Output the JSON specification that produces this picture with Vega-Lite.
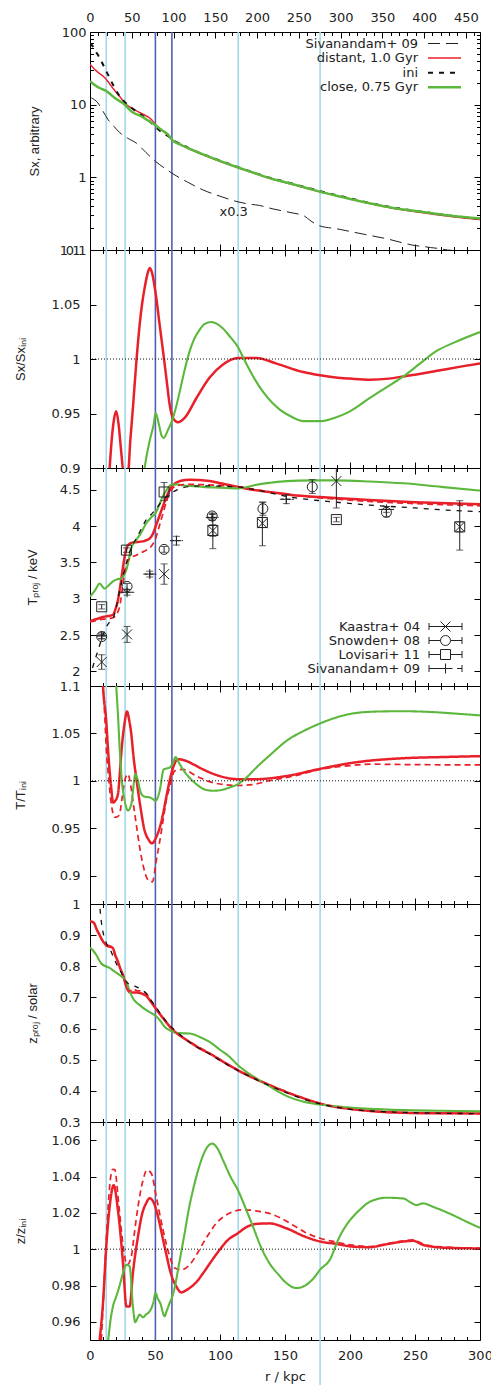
{
"$schema": "https://vega.github.io/schema/vega-lite/v6.json",
"background": "white",
"padding": {"left": 13, "top": 8, "right": 5, "bottom": 0},
"spacing": 0,
"bounds": "flush",
"datasets": {
"vl": [{"r":12.5,"c":"light"},{"r":27,"c":"light"},{"r":50.3,"c":"dark"},{"r":63,"c":"dark"},{"r":114,"c":"light"},{"r":177,"c":"light"}],
"sx": [
{"s":"Sivanandam+ 09","r":1,"v":12.4},{"s":"Sivanandam+ 09","r":6,"v":10.6},{"s":"Sivanandam+ 09","r":10,"v":8.1},{"s":"Sivanandam+ 09","r":14,"v":6.2},{"s":"Sivanandam+ 09","r":18.5,"v":5.0},{"s":"Sivanandam+ 09","r":23,"v":4.1},{"s":"Sivanandam+ 09","r":29,"v":3.45},{"s":"Sivanandam+ 09","r":35.6,"v":2.96},{"s":"Sivanandam+ 09","r":43,"v":2.2},{"s":"Sivanandam+ 09","r":50.5,"v":1.65},{"s":"Sivanandam+ 09","r":57,"v":1.35},{"s":"Sivanandam+ 09","r":63,"v":1.14},{"s":"Sivanandam+ 09","r":75,"v":0.86},{"s":"Sivanandam+ 09","r":87,"v":0.67},{"s":"Sivanandam+ 09","r":100,"v":0.55},{"s":"Sivanandam+ 09","r":113.8,"v":0.46},{"s":"Sivanandam+ 09","r":122,"v":0.43},{"s":"Sivanandam+ 09","r":130.5,"v":0.41},{"s":"Sivanandam+ 09","r":140,"v":0.37},{"s":"Sivanandam+ 09","r":150,"v":0.34},{"s":"Sivanandam+ 09","r":157,"v":0.32},{"s":"Sivanandam+ 09","r":164,"v":0.3},{"s":"Sivanandam+ 09","r":170,"v":0.25},{"s":"Sivanandam+ 09","r":177,"v":0.214},{"s":"Sivanandam+ 09","r":189,"v":0.197},{"s":"Sivanandam+ 09","r":200,"v":0.18},{"s":"Sivanandam+ 09","r":215,"v":0.159},{"s":"Sivanandam+ 09","r":228,"v":0.143},{"s":"Sivanandam+ 09","r":241,"v":0.125},{"s":"Sivanandam+ 09","r":250,"v":0.115},{"s":"Sivanandam+ 09","r":256,"v":0.112},{"s":"Sivanandam+ 09","r":262,"v":0.108},{"s":"Sivanandam+ 09","r":268,"v":0.105},{"s":"Sivanandam+ 09","r":275,"v":0.1},{"s":"Sivanandam+ 09","r":285,"v":0.097},{"s":"Sivanandam+ 09","r":295,"v":0.094},
{"s":"distant, 1.0 Gyr","r":0,"v":36},{"s":"distant, 1.0 Gyr","r":5,"v":29},{"s":"distant, 1.0 Gyr","r":11.3,"v":23.5},{"s":"distant, 1.0 Gyr","r":18,"v":16.5},{"s":"distant, 1.0 Gyr","r":24,"v":12.2},{"s":"distant, 1.0 Gyr","r":28,"v":10},{"s":"distant, 1.0 Gyr","r":32,"v":9.0},{"s":"distant, 1.0 Gyr","r":37,"v":8.0},{"s":"distant, 1.0 Gyr","r":42,"v":7.2},{"s":"distant, 1.0 Gyr","r":47,"v":6.3},{"s":"distant, 1.0 Gyr","r":52,"v":4.9},{"s":"distant, 1.0 Gyr","r":57,"v":4.2},{"s":"distant, 1.0 Gyr","r":60,"v":3.8},{"s":"distant, 1.0 Gyr","r":63,"v":3.3},{"s":"distant, 1.0 Gyr","r":70,"v":2.8},{"s":"distant, 1.0 Gyr","r":80,"v":2.3},{"s":"distant, 1.0 Gyr","r":90,"v":1.95},{"s":"distant, 1.0 Gyr","r":100,"v":1.66},{"s":"distant, 1.0 Gyr","r":113.8,"v":1.36},{"s":"distant, 1.0 Gyr","r":125,"v":1.16},{"s":"distant, 1.0 Gyr","r":138,"v":0.97},{"s":"distant, 1.0 Gyr","r":150,"v":0.85},{"s":"distant, 1.0 Gyr","r":160,"v":0.76},{"s":"distant, 1.0 Gyr","r":177,"v":0.634},{"s":"distant, 1.0 Gyr","r":195,"v":0.53},{"s":"distant, 1.0 Gyr","r":215,"v":0.436},{"s":"distant, 1.0 Gyr","r":235,"v":0.37},{"s":"distant, 1.0 Gyr","r":253.6,"v":0.33},{"s":"distant, 1.0 Gyr","r":275,"v":0.293},{"s":"distant, 1.0 Gyr","r":300,"v":0.262},
{"s":"ini","r":0,"v":70},{"s":"ini","r":2.3,"v":63},{"s":"ini","r":5,"v":52},{"s":"ini","r":7.4,"v":44},{"s":"ini","r":11.3,"v":32},{"s":"ini","r":15,"v":23.5},{"s":"ini","r":19,"v":17},{"s":"ini","r":22.8,"v":13.1},{"s":"ini","r":26,"v":11.2},{"s":"ini","r":30.5,"v":9.5},{"s":"ini","r":37,"v":7.7},{"s":"ini","r":44.6,"v":6.2},{"s":"ini","r":51,"v":4.8},{"s":"ini","r":56,"v":4.1},{"s":"ini","r":60,"v":3.7},{"s":"ini","r":63,"v":3.35},{"s":"ini","r":70,"v":2.85},{"s":"ini","r":80,"v":2.35},{"s":"ini","r":90,"v":1.98},{"s":"ini","r":100,"v":1.7},{"s":"ini","r":113.8,"v":1.38},{"s":"ini","r":125,"v":1.18},{"s":"ini","r":138,"v":0.99},{"s":"ini","r":150,"v":0.87},{"s":"ini","r":160,"v":0.78},{"s":"ini","r":177,"v":0.645},{"s":"ini","r":195,"v":0.54},{"s":"ini","r":215,"v":0.445},{"s":"ini","r":235,"v":0.38},{"s":"ini","r":253.6,"v":0.34},{"s":"ini","r":275,"v":0.3},{"s":"ini","r":300,"v":0.268},
{"s":"close, 0.75 Gyr","r":0,"v":21.1},{"s":"close, 0.75 Gyr","r":3,"v":19},{"s":"close, 0.75 Gyr","r":7.4,"v":17},{"s":"close, 0.75 Gyr","r":12.5,"v":15.4},{"s":"close, 0.75 Gyr","r":19,"v":12.4},{"s":"close, 0.75 Gyr","r":26.7,"v":10.0},{"s":"close, 0.75 Gyr","r":31.8,"v":8.1},{"s":"close, 0.75 Gyr","r":39.5,"v":6.9},{"s":"close, 0.75 Gyr","r":45,"v":6.0},{"s":"close, 0.75 Gyr","r":49.8,"v":5.3},{"s":"close, 0.75 Gyr","r":55,"v":4.5},{"s":"close, 0.75 Gyr","r":60,"v":3.87},{"s":"close, 0.75 Gyr","r":63,"v":3.3},{"s":"close, 0.75 Gyr","r":70,"v":2.8},{"s":"close, 0.75 Gyr","r":80,"v":2.33},{"s":"close, 0.75 Gyr","r":90,"v":1.97},{"s":"close, 0.75 Gyr","r":100,"v":1.68},{"s":"close, 0.75 Gyr","r":113.8,"v":1.37},{"s":"close, 0.75 Gyr","r":125,"v":1.17},{"s":"close, 0.75 Gyr","r":138,"v":0.98},{"s":"close, 0.75 Gyr","r":150,"v":0.86},{"s":"close, 0.75 Gyr","r":160,"v":0.77},{"s":"close, 0.75 Gyr","r":177,"v":0.635},{"s":"close, 0.75 Gyr","r":195,"v":0.53},{"s":"close, 0.75 Gyr","r":215,"v":0.44},{"s":"close, 0.75 Gyr","r":235,"v":0.375},{"s":"close, 0.75 Gyr","r":253.6,"v":0.338},{"s":"close, 0.75 Gyr","r":275,"v":0.3},{"s":"close, 0.75 Gyr","r":300,"v":0.272}
],
"sxr": [
{"s":"distant, 1.0 Gyr","r":14,"v":0.88},{"s":"distant, 1.0 Gyr","r":15.1,"v":0.9},{"s":"distant, 1.0 Gyr","r":17,"v":0.93},{"s":"distant, 1.0 Gyr","r":18.5,"v":0.945},{"s":"distant, 1.0 Gyr","r":20.2,"v":0.952},{"s":"distant, 1.0 Gyr","r":22,"v":0.94},{"s":"distant, 1.0 Gyr","r":24,"v":0.915},{"s":"distant, 1.0 Gyr","r":25.9,"v":0.895},{"s":"distant, 1.0 Gyr","r":29.2,"v":0.895},{"s":"distant, 1.0 Gyr","r":31,"v":0.925},{"s":"distant, 1.0 Gyr","r":33,"v":0.955},{"s":"distant, 1.0 Gyr","r":35.5,"v":0.995},{"s":"distant, 1.0 Gyr","r":38.2,"v":1.0315},{"s":"distant, 1.0 Gyr","r":40,"v":1.05},{"s":"distant, 1.0 Gyr","r":42,"v":1.065},{"s":"distant, 1.0 Gyr","r":44,"v":1.077},{"s":"distant, 1.0 Gyr","r":45.9,"v":1.0834},{"s":"distant, 1.0 Gyr","r":47.5,"v":1.08},{"s":"distant, 1.0 Gyr","r":51,"v":1.056},{"s":"distant, 1.0 Gyr","r":53.5,"v":1.032},{"s":"distant, 1.0 Gyr","r":56.2,"v":1.007},{"s":"distant, 1.0 Gyr","r":59,"v":0.98},{"s":"distant, 1.0 Gyr","r":61.3,"v":0.958},{"s":"distant, 1.0 Gyr","r":63.8,"v":0.946},{"s":"distant, 1.0 Gyr","r":67.7,"v":0.942},{"s":"distant, 1.0 Gyr","r":72.8,"v":0.946},{"s":"distant, 1.0 Gyr","r":81.8,"v":0.964},{"s":"distant, 1.0 Gyr","r":92,"v":0.983},{"s":"distant, 1.0 Gyr","r":102.3,"v":0.995},{"s":"distant, 1.0 Gyr","r":113.8,"v":1.001},{"s":"distant, 1.0 Gyr","r":128,"v":1.001},{"s":"distant, 1.0 Gyr","r":143,"v":0.996},{"s":"distant, 1.0 Gyr","r":164,"v":0.988},{"s":"distant, 1.0 Gyr","r":177,"v":0.985},{"s":"distant, 1.0 Gyr","r":189,"v":0.983},{"s":"distant, 1.0 Gyr","r":200,"v":0.982},{"s":"distant, 1.0 Gyr","r":215,"v":0.981},{"s":"distant, 1.0 Gyr","r":230,"v":0.982},{"s":"distant, 1.0 Gyr","r":241,"v":0.984},{"s":"distant, 1.0 Gyr","r":266,"v":0.989},{"s":"distant, 1.0 Gyr","r":285,"v":0.993},{"s":"distant, 1.0 Gyr","r":300,"v":0.996},
{"s":"close, 0.75 Gyr","r":40,"v":0.88},{"s":"close, 0.75 Gyr","r":42,"v":0.9},{"s":"close, 0.75 Gyr","r":45.9,"v":0.925},{"s":"close, 0.75 Gyr","r":49,"v":0.94},{"s":"close, 0.75 Gyr","r":50.5,"v":0.9505},{"s":"close, 0.75 Gyr","r":53,"v":0.94},{"s":"close, 0.75 Gyr","r":55,"v":0.93},{"s":"close, 0.75 Gyr","r":56.7,"v":0.9275},{"s":"close, 0.75 Gyr","r":60,"v":0.935},{"s":"close, 0.75 Gyr","r":63,"v":0.943},{"s":"close, 0.75 Gyr","r":66,"v":0.955},{"s":"close, 0.75 Gyr","r":69,"v":0.97},{"s":"close, 0.75 Gyr","r":72.8,"v":0.99},{"s":"close, 0.75 Gyr","r":76.6,"v":1.007},{"s":"close, 0.75 Gyr","r":80,"v":1.018},{"s":"close, 0.75 Gyr","r":84.4,"v":1.027},{"s":"close, 0.75 Gyr","r":88,"v":1.032},{"s":"close, 0.75 Gyr","r":93.3,"v":1.034},{"s":"close, 0.75 Gyr","r":98,"v":1.032},{"s":"close, 0.75 Gyr","r":102.3,"v":1.028},{"s":"close, 0.75 Gyr","r":108,"v":1.02},{"s":"close, 0.75 Gyr","r":113.8,"v":1.011},{"s":"close, 0.75 Gyr","r":118,"v":1.001},{"s":"close, 0.75 Gyr","r":122.8,"v":0.99},{"s":"close, 0.75 Gyr","r":128,"v":0.979},{"s":"close, 0.75 Gyr","r":133,"v":0.97},{"s":"close, 0.75 Gyr","r":140,"v":0.96},{"s":"close, 0.75 Gyr","r":146,"v":0.9536},{"s":"close, 0.75 Gyr","r":155,"v":0.947},{"s":"close, 0.75 Gyr","r":164,"v":0.943},{"s":"close, 0.75 Gyr","r":177,"v":0.943},{"s":"close, 0.75 Gyr","r":189.5,"v":0.9466},{"s":"close, 0.75 Gyr","r":200,"v":0.952},{"s":"close, 0.75 Gyr","r":215,"v":0.964},{"s":"close, 0.75 Gyr","r":228,"v":0.974},{"s":"close, 0.75 Gyr","r":241,"v":0.984},{"s":"close, 0.75 Gyr","r":253,"v":0.995},{"s":"close, 0.75 Gyr","r":266,"v":1.007},{"s":"close, 0.75 Gyr","r":280,"v":1.015},{"s":"close, 0.75 Gyr","r":300,"v":1.0247}
],
"tp": [
{"s":"distant, 1.0 Gyr","r":0,"v":2.69},{"s":"distant, 1.0 Gyr","r":10,"v":2.75},{"s":"distant, 1.0 Gyr","r":17.7,"v":2.78},{"s":"distant, 1.0 Gyr","r":19.5,"v":2.85},{"s":"distant, 1.0 Gyr","r":21.5,"v":2.98},{"s":"distant, 1.0 Gyr","r":23.5,"v":3.2},{"s":"distant, 1.0 Gyr","r":25.4,"v":3.44},{"s":"distant, 1.0 Gyr","r":27.5,"v":3.65},{"s":"distant, 1.0 Gyr","r":29.2,"v":3.74},{"s":"distant, 1.0 Gyr","r":33,"v":3.775},{"s":"distant, 1.0 Gyr","r":40.8,"v":3.79},{"s":"distant, 1.0 Gyr","r":44,"v":3.81},{"s":"distant, 1.0 Gyr","r":46,"v":3.83},{"s":"distant, 1.0 Gyr","r":48.5,"v":3.9},{"s":"distant, 1.0 Gyr","r":50.5,"v":3.996},{"s":"distant, 1.0 Gyr","r":53,"v":4.12},{"s":"distant, 1.0 Gyr","r":56,"v":4.27},{"s":"distant, 1.0 Gyr","r":58.5,"v":4.39},{"s":"distant, 1.0 Gyr","r":61.3,"v":4.5},{"s":"distant, 1.0 Gyr","r":63.5,"v":4.56},{"s":"distant, 1.0 Gyr","r":66.4,"v":4.6},{"s":"distant, 1.0 Gyr","r":70,"v":4.625},{"s":"distant, 1.0 Gyr","r":76.6,"v":4.64},{"s":"distant, 1.0 Gyr","r":84,"v":4.635},{"s":"distant, 1.0 Gyr","r":92,"v":4.62},{"s":"distant, 1.0 Gyr","r":103,"v":4.58},{"s":"distant, 1.0 Gyr","r":113.8,"v":4.54},{"s":"distant, 1.0 Gyr","r":125,"v":4.5},{"s":"distant, 1.0 Gyr","r":138,"v":4.47},{"s":"distant, 1.0 Gyr","r":155,"v":4.43},{"s":"distant, 1.0 Gyr","r":177,"v":4.4},{"s":"distant, 1.0 Gyr","r":195,"v":4.38},{"s":"distant, 1.0 Gyr","r":215,"v":4.36},{"s":"distant, 1.0 Gyr","r":250,"v":4.33},{"s":"distant, 1.0 Gyr","r":275,"v":4.315},{"s":"distant, 1.0 Gyr","r":300,"v":4.3},
{"s":"distant, dashed","r":0,"v":2.68},{"s":"distant, dashed","r":10,"v":2.72},{"s":"distant, dashed","r":17.7,"v":2.74},{"s":"distant, dashed","r":20,"v":2.78},{"s":"distant, dashed","r":22.8,"v":2.89},{"s":"distant, dashed","r":25,"v":3.15},{"s":"distant, dashed","r":28,"v":3.49},{"s":"distant, dashed","r":31,"v":3.56},{"s":"distant, dashed","r":35.6,"v":3.6},{"s":"distant, dashed","r":40,"v":3.64},{"s":"distant, dashed","r":43.3,"v":3.67},{"s":"distant, dashed","r":47,"v":3.72},{"s":"distant, dashed","r":50.5,"v":3.83},{"s":"distant, dashed","r":53,"v":3.98},{"s":"distant, dashed","r":56.2,"v":4.18},{"s":"distant, dashed","r":59,"v":4.35},{"s":"distant, dashed","r":61.3,"v":4.46},{"s":"distant, dashed","r":64,"v":4.53},{"s":"distant, dashed","r":67.7,"v":4.56},{"s":"distant, dashed","r":75,"v":4.575},{"s":"distant, dashed","r":87,"v":4.57},{"s":"distant, dashed","r":100,"v":4.56},{"s":"distant, dashed","r":113.8,"v":4.54},{"s":"distant, dashed","r":138,"v":4.47},{"s":"distant, dashed","r":160,"v":4.42},{"s":"distant, dashed","r":177,"v":4.39},{"s":"distant, dashed","r":215,"v":4.34},{"s":"distant, dashed","r":250,"v":4.31},{"s":"distant, dashed","r":300,"v":4.28},
{"s":"ini","r":2,"v":2.05},{"s":"ini","r":3.6,"v":2.15},{"s":"ini","r":5.5,"v":2.25},{"s":"ini","r":7.4,"v":2.36},{"s":"ini","r":10,"v":2.5},{"s":"ini","r":12.5,"v":2.61},{"s":"ini","r":15,"v":2.68},{"s":"ini","r":17.7,"v":2.73},{"s":"ini","r":20,"v":2.87},{"s":"ini","r":22.8,"v":3.12},{"s":"ini","r":25.5,"v":3.32},{"s":"ini","r":28,"v":3.49},{"s":"ini","r":31,"v":3.67},{"s":"ini","r":35.6,"v":3.83},{"s":"ini","r":40,"v":3.98},{"s":"ini","r":43.3,"v":4.09},{"s":"ini","r":47,"v":4.16},{"s":"ini","r":50.5,"v":4.23},{"s":"ini","r":53,"v":4.29},{"s":"ini","r":56,"v":4.36},{"s":"ini","r":60,"v":4.42},{"s":"ini","r":63,"v":4.46},{"s":"ini","r":67,"v":4.5},{"s":"ini","r":71.5,"v":4.53},{"s":"ini","r":80,"v":4.55},{"s":"ini","r":87,"v":4.555},{"s":"ini","r":100,"v":4.55},{"s":"ini","r":113.8,"v":4.54},{"s":"ini","r":130,"v":4.49},{"s":"ini","r":151,"v":4.41},{"s":"ini","r":177,"v":4.35},{"s":"ini","r":195,"v":4.32},{"s":"ini","r":215,"v":4.29},{"s":"ini","r":250,"v":4.25},{"s":"ini","r":275,"v":4.22},{"s":"ini","r":300,"v":4.2},
{"s":"close, 0.75 Gyr","r":0,"v":3.03},{"s":"close, 0.75 Gyr","r":4,"v":3.12},{"s":"close, 0.75 Gyr","r":7.4,"v":3.21},{"s":"close, 0.75 Gyr","r":9.5,"v":3.17},{"s":"close, 0.75 Gyr","r":11.3,"v":3.14},{"s":"close, 0.75 Gyr","r":14,"v":3.18},{"s":"close, 0.75 Gyr","r":17.7,"v":3.24},{"s":"close, 0.75 Gyr","r":21,"v":3.27},{"s":"close, 0.75 Gyr","r":24,"v":3.28},{"s":"close, 0.75 Gyr","r":26,"v":3.32},{"s":"close, 0.75 Gyr","r":28,"v":3.4},{"s":"close, 0.75 Gyr","r":30,"v":3.55},{"s":"close, 0.75 Gyr","r":31.8,"v":3.7},{"s":"close, 0.75 Gyr","r":35.6,"v":3.81},{"s":"close, 0.75 Gyr","r":39,"v":3.9},{"s":"close, 0.75 Gyr","r":43.3,"v":4.04},{"s":"close, 0.75 Gyr","r":47,"v":4.12},{"s":"close, 0.75 Gyr","r":50.5,"v":4.18},{"s":"close, 0.75 Gyr","r":53,"v":4.28},{"s":"close, 0.75 Gyr","r":56,"v":4.41},{"s":"close, 0.75 Gyr","r":59,"v":4.5},{"s":"close, 0.75 Gyr","r":62.5,"v":4.57},{"s":"close, 0.75 Gyr","r":67,"v":4.575},{"s":"close, 0.75 Gyr","r":71.5,"v":4.56},{"s":"close, 0.75 Gyr","r":80,"v":4.55},{"s":"close, 0.75 Gyr","r":87,"v":4.54},{"s":"close, 0.75 Gyr","r":100,"v":4.53},{"s":"close, 0.75 Gyr","r":113.8,"v":4.52},{"s":"close, 0.75 Gyr","r":120,"v":4.535},{"s":"close, 0.75 Gyr","r":128,"v":4.57},{"s":"close, 0.75 Gyr","r":140,"v":4.6},{"s":"close, 0.75 Gyr","r":151,"v":4.62},{"s":"close, 0.75 Gyr","r":170,"v":4.63},{"s":"close, 0.75 Gyr","r":189,"v":4.63},{"s":"close, 0.75 Gyr","r":215,"v":4.615},{"s":"close, 0.75 Gyr","r":241,"v":4.59},{"s":"close, 0.75 Gyr","r":270,"v":4.54},{"s":"close, 0.75 Gyr","r":300,"v":4.49}
],
"obs": [
{"src":"Kaastra+ 04","r":9,"T":2.13,"lo":2.03,"hi":2.23},{"src":"Kaastra+ 04","r":28.5,"T":2.51,"lo":2.4,"hi":2.62},{"src":"Kaastra+ 04","r":57,"T":3.34,"lo":3.2,"hi":3.48},{"src":"Kaastra+ 04","r":94.5,"T":3.94,"lo":3.69,"hi":4.17},{"src":"Kaastra+ 04","r":132.6,"T":4.04,"lo":3.73,"hi":4.33},{"src":"Kaastra+ 04","r":189.5,"T":4.62,"lo":4.25,"hi":4.97},{"src":"Kaastra+ 04","r":284.4,"T":3.99,"lo":3.67,"hi":4.35},
{"src":"Snowden+ 08","r":9,"T":2.48,"lo":2.45,"hi":2.51},{"src":"Snowden+ 08","r":28.5,"T":3.17,"lo":3.13,"hi":3.21},{"src":"Snowden+ 08","r":57,"T":3.68,"lo":3.64,"hi":3.72},{"src":"Snowden+ 08","r":94,"T":4.14,"lo":4.1,"hi":4.18},{"src":"Snowden+ 08","r":133,"T":4.24,"lo":4.15,"hi":4.33},{"src":"Snowden+ 08","r":171,"T":4.54,"lo":4.45,"hi":4.64},{"src":"Snowden+ 08","r":228,"T":4.19,"lo":4.13,"hi":4.27},
{"src":"Lovisari+ 11","r":9,"T":2.89,"lo":2.86,"hi":2.92},{"src":"Lovisari+ 11","r":28,"T":3.67,"lo":3.64,"hi":3.7},{"src":"Lovisari+ 11","r":57,"T":4.47,"lo":4.35,"hi":4.6},{"src":"Lovisari+ 11","r":94.5,"T":3.94,"lo":3.86,"hi":4.02},{"src":"Lovisari+ 11","r":132.6,"T":4.05,"lo":3.98,"hi":4.12},{"src":"Lovisari+ 11","r":189.5,"T":4.09,"lo":4.06,"hi":4.12},{"src":"Lovisari+ 11","r":284.4,"T":3.99,"lo":3.92,"hi":4.06},
{"src":"Sivanandam+ 09","r":9,"T":2.49,"lo":2.45,"hi":2.53,"rlo":5,"rhi":13},{"src":"Sivanandam+ 09","r":28.5,"T":3.09,"lo":3.05,"hi":3.13,"rlo":23,"rhi":34},{"src":"Sivanandam+ 09","r":46,"T":3.34,"lo":3.3,"hi":3.38,"rlo":41,"rhi":51},{"src":"Sivanandam+ 09","r":66.5,"T":3.8,"lo":3.74,"hi":3.86,"rlo":61.5,"rhi":71.5},{"src":"Sivanandam+ 09","r":94,"T":4.12,"lo":4.08,"hi":4.16,"rlo":89,"rhi":99},{"src":"Sivanandam+ 09","r":151,"T":4.37,"lo":4.31,"hi":4.43,"rlo":146,"rhi":157},{"src":"Sivanandam+ 09","r":228,"T":4.23,"lo":4.19,"hi":4.27,"rlo":222,"rhi":234}
],
"tr": [
{"s":"distant, 1.0 Gyr","r":9,"v":1.13},{"s":"distant, 1.0 Gyr","r":10,"v":1.1},{"s":"distant, 1.0 Gyr","r":12.5,"v":1.063},{"s":"distant, 1.0 Gyr","r":14,"v":1.03},{"s":"distant, 1.0 Gyr","r":15.1,"v":1.0105},{"s":"distant, 1.0 Gyr","r":16.5,"v":0.99},{"s":"distant, 1.0 Gyr","r":17.7,"v":0.977},{"s":"distant, 1.0 Gyr","r":19.5,"v":0.979},{"s":"distant, 1.0 Gyr","r":21.5,"v":0.986},{"s":"distant, 1.0 Gyr","r":22.8,"v":1.005},{"s":"distant, 1.0 Gyr","r":24,"v":1.028},{"s":"distant, 1.0 Gyr","r":26.5,"v":1.06},{"s":"distant, 1.0 Gyr","r":28.5,"v":1.073},{"s":"distant, 1.0 Gyr","r":30,"v":1.065},{"s":"distant, 1.0 Gyr","r":31.8,"v":1.049},{"s":"distant, 1.0 Gyr","r":33.5,"v":1.025},{"s":"distant, 1.0 Gyr","r":35.6,"v":1.003},{"s":"distant, 1.0 Gyr","r":38.5,"v":0.975},{"s":"distant, 1.0 Gyr","r":42,"v":0.9476},{"s":"distant, 1.0 Gyr","r":45,"v":0.938},{"s":"distant, 1.0 Gyr","r":47.7,"v":0.934},{"s":"distant, 1.0 Gyr","r":51,"v":0.9406},{"s":"distant, 1.0 Gyr","r":53.5,"v":0.95},{"s":"distant, 1.0 Gyr","r":56.2,"v":0.965},{"s":"distant, 1.0 Gyr","r":59,"v":0.985},{"s":"distant, 1.0 Gyr","r":62.5,"v":1.007},{"s":"distant, 1.0 Gyr","r":65,"v":1.018},{"s":"distant, 1.0 Gyr","r":67.7,"v":1.0227},{"s":"distant, 1.0 Gyr","r":74,"v":1.021},{"s":"distant, 1.0 Gyr","r":80,"v":1.017},{"s":"distant, 1.0 Gyr","r":87,"v":1.012},{"s":"distant, 1.0 Gyr","r":99.7,"v":1.005},{"s":"distant, 1.0 Gyr","r":113.8,"v":1.0017},{"s":"distant, 1.0 Gyr","r":128,"v":1.0017},{"s":"distant, 1.0 Gyr","r":151,"v":1.005},{"s":"distant, 1.0 Gyr","r":177,"v":1.0126},{"s":"distant, 1.0 Gyr","r":202,"v":1.019},{"s":"distant, 1.0 Gyr","r":241,"v":1.0238},{"s":"distant, 1.0 Gyr","r":270,"v":1.025},{"s":"distant, 1.0 Gyr","r":300,"v":1.026},
{"s":"distant, dashed","r":9,"v":1.13},{"s":"distant, dashed","r":10,"v":1.1},{"s":"distant, dashed","r":11.3,"v":1.07},{"s":"distant, dashed","r":12.5,"v":1.035},{"s":"distant, dashed","r":14.5,"v":1.0},{"s":"distant, dashed","r":16.4,"v":0.9755},{"s":"distant, dashed","r":19,"v":0.9615},{"s":"distant, dashed","r":21,"v":0.962},{"s":"distant, dashed","r":22.8,"v":0.965},{"s":"distant, dashed","r":24.5,"v":0.98},{"s":"distant, dashed","r":26.7,"v":1.0},{"s":"distant, dashed","r":29.2,"v":1.007},{"s":"distant, dashed","r":31,"v":0.998},{"s":"distant, dashed","r":33,"v":0.979},{"s":"distant, dashed","r":35.5,"v":0.955},{"s":"distant, dashed","r":38.2,"v":0.93},{"s":"distant, dashed","r":41,"v":0.91},{"s":"distant, dashed","r":43.3,"v":0.8987},{"s":"distant, dashed","r":46,"v":0.894},{"s":"distant, dashed","r":48,"v":0.8934},{"s":"distant, dashed","r":51,"v":0.916},{"s":"distant, dashed","r":53.5,"v":0.935},{"s":"distant, dashed","r":56.2,"v":0.958},{"s":"distant, dashed","r":58.5,"v":0.978},{"s":"distant, dashed","r":61.3,"v":0.993},{"s":"distant, dashed","r":65.2,"v":1.0105},{"s":"distant, dashed","r":71.5,"v":1.012},{"s":"distant, dashed","r":81.8,"v":1.005},{"s":"distant, dashed","r":94.6,"v":0.998},{"s":"distant, dashed","r":113.8,"v":0.995},{"s":"distant, dashed","r":125,"v":0.996},{"s":"distant, dashed","r":138,"v":1.0},{"s":"distant, dashed","r":160,"v":1.006},{"s":"distant, dashed","r":177,"v":1.012},{"s":"distant, dashed","r":200,"v":1.016},{"s":"distant, dashed","r":215,"v":1.0175},{"s":"distant, dashed","r":250,"v":1.017},{"s":"distant, dashed","r":300,"v":1.0168},
{"s":"close, 0.75 Gyr","r":19.5,"v":1.12},{"s":"close, 0.75 Gyr","r":20.2,"v":1.1},{"s":"close, 0.75 Gyr","r":21.5,"v":1.07},{"s":"close, 0.75 Gyr","r":22.8,"v":1.035},{"s":"close, 0.75 Gyr","r":24.5,"v":1.0},{"s":"close, 0.75 Gyr","r":26.7,"v":0.979},{"s":"close, 0.75 Gyr","r":29.2,"v":0.9686},{"s":"close, 0.75 Gyr","r":31.8,"v":0.9755},{"s":"close, 0.75 Gyr","r":33.5,"v":0.995},{"s":"close, 0.75 Gyr","r":34.8,"v":1.007},{"s":"close, 0.75 Gyr","r":36.9,"v":1.0},{"s":"close, 0.75 Gyr","r":38.5,"v":0.99},{"s":"close, 0.75 Gyr","r":40.8,"v":0.984},{"s":"close, 0.75 Gyr","r":43,"v":0.983},{"s":"close, 0.75 Gyr","r":46,"v":0.9825},{"s":"close, 0.75 Gyr","r":48,"v":0.981},{"s":"close, 0.75 Gyr","r":50.5,"v":0.979},{"s":"close, 0.75 Gyr","r":53.6,"v":0.9895},{"s":"close, 0.75 Gyr","r":56.7,"v":1.012},{"s":"close, 0.75 Gyr","r":59,"v":1.013},{"s":"close, 0.75 Gyr","r":61.3,"v":1.014},{"s":"close, 0.75 Gyr","r":63.5,"v":1.018},{"s":"close, 0.75 Gyr","r":65.9,"v":1.025},{"s":"close, 0.75 Gyr","r":68,"v":1.02},{"s":"close, 0.75 Gyr","r":71.5,"v":1.012},{"s":"close, 0.75 Gyr","r":76,"v":1.004},{"s":"close, 0.75 Gyr","r":81.8,"v":0.9965},{"s":"close, 0.75 Gyr","r":88,"v":0.991},{"s":"close, 0.75 Gyr","r":94.6,"v":0.9895},{"s":"close, 0.75 Gyr","r":100,"v":0.99},{"s":"close, 0.75 Gyr","r":107.5,"v":0.993},{"s":"close, 0.75 Gyr","r":113.8,"v":0.9965},{"s":"close, 0.75 Gyr","r":120,"v":1.003},{"s":"close, 0.75 Gyr","r":128,"v":1.014},{"s":"close, 0.75 Gyr","r":140,"v":1.029},{"s":"close, 0.75 Gyr","r":151,"v":1.042},{"s":"close, 0.75 Gyr","r":165,"v":1.053},{"s":"close, 0.75 Gyr","r":177,"v":1.0605},{"s":"close, 0.75 Gyr","r":190,"v":1.067},{"s":"close, 0.75 Gyr","r":202,"v":1.071},{"s":"close, 0.75 Gyr","r":220,"v":1.073},{"s":"close, 0.75 Gyr","r":241,"v":1.0734},{"s":"close, 0.75 Gyr","r":266,"v":1.0723},{"s":"close, 0.75 Gyr","r":285,"v":1.0705},{"s":"close, 0.75 Gyr","r":300,"v":1.069}
],
"zp": [
{"s":"distant, 1.0 Gyr","r":0,"v":0.945},{"s":"distant, 1.0 Gyr","r":3,"v":0.94},{"s":"distant, 1.0 Gyr","r":5,"v":0.92},{"s":"distant, 1.0 Gyr","r":7.4,"v":0.9},{"s":"distant, 1.0 Gyr","r":10,"v":0.88},{"s":"distant, 1.0 Gyr","r":12.5,"v":0.868},{"s":"distant, 1.0 Gyr","r":15,"v":0.865},{"s":"distant, 1.0 Gyr","r":17.7,"v":0.858},{"s":"distant, 1.0 Gyr","r":19.5,"v":0.835},{"s":"distant, 1.0 Gyr","r":21.5,"v":0.815},{"s":"distant, 1.0 Gyr","r":23.5,"v":0.79},{"s":"distant, 1.0 Gyr","r":25.4,"v":0.772},{"s":"distant, 1.0 Gyr","r":28,"v":0.734},{"s":"distant, 1.0 Gyr","r":30.5,"v":0.716},{"s":"distant, 1.0 Gyr","r":35.6,"v":0.716},{"s":"distant, 1.0 Gyr","r":40,"v":0.712},{"s":"distant, 1.0 Gyr","r":43.3,"v":0.705},{"s":"distant, 1.0 Gyr","r":47,"v":0.685},{"s":"distant, 1.0 Gyr","r":50.5,"v":0.665},{"s":"distant, 1.0 Gyr","r":54,"v":0.645},{"s":"distant, 1.0 Gyr","r":57.4,"v":0.627},{"s":"distant, 1.0 Gyr","r":63.8,"v":0.595},{"s":"distant, 1.0 Gyr","r":70,"v":0.575},{"s":"distant, 1.0 Gyr","r":76.6,"v":0.557},{"s":"distant, 1.0 Gyr","r":84,"v":0.537},{"s":"distant, 1.0 Gyr","r":92,"v":0.52},{"s":"distant, 1.0 Gyr","r":103,"v":0.492},{"s":"distant, 1.0 Gyr","r":113.8,"v":0.466},{"s":"distant, 1.0 Gyr","r":128,"v":0.437},{"s":"distant, 1.0 Gyr","r":140,"v":0.415},{"s":"distant, 1.0 Gyr","r":151,"v":0.396},{"s":"distant, 1.0 Gyr","r":165,"v":0.375},{"s":"distant, 1.0 Gyr","r":177,"v":0.359},{"s":"distant, 1.0 Gyr","r":190,"v":0.347},{"s":"distant, 1.0 Gyr","r":202,"v":0.341},{"s":"distant, 1.0 Gyr","r":220,"v":0.334},{"s":"distant, 1.0 Gyr","r":241,"v":0.33},{"s":"distant, 1.0 Gyr","r":270,"v":0.328},{"s":"distant, 1.0 Gyr","r":300,"v":0.327},
{"s":"distant, dashed","r":0,"v":0.945},{"s":"distant, dashed","r":3,"v":0.94},{"s":"distant, dashed","r":5,"v":0.92},{"s":"distant, dashed","r":7.4,"v":0.9},{"s":"distant, dashed","r":10,"v":0.88},{"s":"distant, dashed","r":12.5,"v":0.865},{"s":"distant, dashed","r":15,"v":0.862},{"s":"distant, dashed","r":17.7,"v":0.855},{"s":"distant, dashed","r":19.5,"v":0.832},{"s":"distant, dashed","r":21.5,"v":0.812},{"s":"distant, dashed","r":25.4,"v":0.77},{"s":"distant, dashed","r":28,"v":0.735},{"s":"distant, dashed","r":30.5,"v":0.72},{"s":"distant, dashed","r":33,"v":0.728},{"s":"distant, dashed","r":36,"v":0.722},{"s":"distant, dashed","r":40,"v":0.72},{"s":"distant, dashed","r":43.3,"v":0.712},{"s":"distant, dashed","r":47,"v":0.69},{"s":"distant, dashed","r":50.5,"v":0.667},{"s":"distant, dashed","r":57.4,"v":0.628},{"s":"distant, dashed","r":63.8,"v":0.596},{"s":"distant, dashed","r":70,"v":0.576},{"s":"distant, dashed","r":76.6,"v":0.558},{"s":"distant, dashed","r":92,"v":0.521},{"s":"distant, dashed","r":113.8,"v":0.467},{"s":"distant, dashed","r":128,"v":0.438},{"s":"distant, dashed","r":151,"v":0.397},{"s":"distant, dashed","r":177,"v":0.36},{"s":"distant, dashed","r":202,"v":0.341},{"s":"distant, dashed","r":241,"v":0.33},{"s":"distant, dashed","r":300,"v":0.327},
{"s":"ini","r":7,"v":1.02},{"s":"ini","r":7.4,"v":1.0},{"s":"ini","r":8.7,"v":0.943},{"s":"ini","r":10,"v":0.91},{"s":"ini","r":11.3,"v":0.89},{"s":"ini","r":13,"v":0.87},{"s":"ini","r":15.1,"v":0.858},{"s":"ini","r":17.5,"v":0.835},{"s":"ini","r":20.2,"v":0.809},{"s":"ini","r":24,"v":0.78},{"s":"ini","r":28,"v":0.75},{"s":"ini","r":31,"v":0.74},{"s":"ini","r":35.6,"v":0.734},{"s":"ini","r":40,"v":0.724},{"s":"ini","r":43.3,"v":0.713},{"s":"ini","r":47,"v":0.69},{"s":"ini","r":50.5,"v":0.67},{"s":"ini","r":57,"v":0.632},{"s":"ini","r":63.8,"v":0.6},{"s":"ini","r":70,"v":0.578},{"s":"ini","r":76.6,"v":0.556},{"s":"ini","r":92,"v":0.518},{"s":"ini","r":113.8,"v":0.465},{"s":"ini","r":128,"v":0.436},{"s":"ini","r":151,"v":0.394},{"s":"ini","r":177,"v":0.358},{"s":"ini","r":202,"v":0.34},{"s":"ini","r":241,"v":0.331},{"s":"ini","r":270,"v":0.328},{"s":"ini","r":300,"v":0.327},
{"s":"close, 0.75 Gyr","r":0,"v":0.86},{"s":"close, 0.75 Gyr","r":2.5,"v":0.85},{"s":"close, 0.75 Gyr","r":4.9,"v":0.836},{"s":"close, 0.75 Gyr","r":7,"v":0.82},{"s":"close, 0.75 Gyr","r":8.7,"v":0.809},{"s":"close, 0.75 Gyr","r":12,"v":0.8},{"s":"close, 0.75 Gyr","r":15.1,"v":0.795},{"s":"close, 0.75 Gyr","r":18,"v":0.786},{"s":"close, 0.75 Gyr","r":22.8,"v":0.772},{"s":"close, 0.75 Gyr","r":28,"v":0.75},{"s":"close, 0.75 Gyr","r":30.5,"v":0.72},{"s":"close, 0.75 Gyr","r":33,"v":0.697},{"s":"close, 0.75 Gyr","r":38,"v":0.676},{"s":"close, 0.75 Gyr","r":43.3,"v":0.659},{"s":"close, 0.75 Gyr","r":47,"v":0.65},{"s":"close, 0.75 Gyr","r":50.5,"v":0.641},{"s":"close, 0.75 Gyr","r":54,"v":0.625},{"s":"close, 0.75 Gyr","r":57.4,"v":0.606},{"s":"close, 0.75 Gyr","r":61,"v":0.595},{"s":"close, 0.75 Gyr","r":66.4,"v":0.586},{"s":"close, 0.75 Gyr","r":71,"v":0.585},{"s":"close, 0.75 Gyr","r":76.6,"v":0.584},{"s":"close, 0.75 Gyr","r":84,"v":0.574},{"s":"close, 0.75 Gyr","r":92,"v":0.557},{"s":"close, 0.75 Gyr","r":100,"v":0.532},{"s":"close, 0.75 Gyr","r":107.5,"v":0.509},{"s":"close, 0.75 Gyr","r":113.8,"v":0.482},{"s":"close, 0.75 Gyr","r":120,"v":0.462},{"s":"close, 0.75 Gyr","r":128,"v":0.44},{"s":"close, 0.75 Gyr","r":140,"v":0.41},{"s":"close, 0.75 Gyr","r":151,"v":0.384},{"s":"close, 0.75 Gyr","r":165,"v":0.364},{"s":"close, 0.75 Gyr","r":177,"v":0.356},{"s":"close, 0.75 Gyr","r":195,"v":0.348},{"s":"close, 0.75 Gyr","r":215,"v":0.342},{"s":"close, 0.75 Gyr","r":241,"v":0.338},{"s":"close, 0.75 Gyr","r":270,"v":0.336},{"s":"close, 0.75 Gyr","r":300,"v":0.334}
],
"zr": [
{"s":"distant, 1.0 Gyr","r":7.4,"v":0.95},{"s":"distant, 1.0 Gyr","r":10,"v":0.9704},{"s":"distant, 1.0 Gyr","r":12.5,"v":1.0014},{"s":"distant, 1.0 Gyr","r":15.1,"v":1.0233},{"s":"distant, 1.0 Gyr","r":18.2,"v":1.0352},{"s":"distant, 1.0 Gyr","r":21.5,"v":1.0215},{"s":"distant, 1.0 Gyr","r":25.4,"v":0.9923},{"s":"distant, 1.0 Gyr","r":28,"v":0.9685},{"s":"distant, 1.0 Gyr","r":30.5,"v":0.9685},{"s":"distant, 1.0 Gyr","r":33,"v":0.9868},{"s":"distant, 1.0 Gyr","r":36.9,"v":1.0069},{"s":"distant, 1.0 Gyr","r":40.2,"v":1.0197},{"s":"distant, 1.0 Gyr","r":43,"v":1.025},{"s":"distant, 1.0 Gyr","r":45.9,"v":1.028},{"s":"distant, 1.0 Gyr","r":49.8,"v":1.0243},{"s":"distant, 1.0 Gyr","r":52.3,"v":1.0179},{"s":"distant, 1.0 Gyr","r":57.4,"v":1.0014},{"s":"distant, 1.0 Gyr","r":62.5,"v":0.9859},{"s":"distant, 1.0 Gyr","r":66.4,"v":0.9795},{"s":"distant, 1.0 Gyr","r":70.2,"v":0.9762},{"s":"distant, 1.0 Gyr","r":73,"v":0.977},{"s":"distant, 1.0 Gyr","r":76.6,"v":0.9786},{"s":"distant, 1.0 Gyr","r":82,"v":0.982},{"s":"distant, 1.0 Gyr","r":87,"v":0.9868},{"s":"distant, 1.0 Gyr","r":93,"v":0.993},{"s":"distant, 1.0 Gyr","r":99.7,"v":0.9996},{"s":"distant, 1.0 Gyr","r":106,"v":1.005},{"s":"distant, 1.0 Gyr","r":113.8,"v":1.0088},{"s":"distant, 1.0 Gyr","r":120,"v":1.012},{"s":"distant, 1.0 Gyr","r":128,"v":1.0139},{"s":"distant, 1.0 Gyr","r":138,"v":1.0142},{"s":"distant, 1.0 Gyr","r":151,"v":1.0115},{"s":"distant, 1.0 Gyr","r":165,"v":1.007},{"s":"distant, 1.0 Gyr","r":177,"v":1.0042},{"s":"distant, 1.0 Gyr","r":189.5,"v":1.0029},{"s":"distant, 1.0 Gyr","r":202,"v":1.0014},{"s":"distant, 1.0 Gyr","r":215,"v":1.0011},{"s":"distant, 1.0 Gyr","r":228,"v":1.0027},{"s":"distant, 1.0 Gyr","r":241,"v":1.0042},{"s":"distant, 1.0 Gyr","r":248.5,"v":1.0046},{"s":"distant, 1.0 Gyr","r":256,"v":1.0024},{"s":"distant, 1.0 Gyr","r":266.4,"v":1.0011},{"s":"distant, 1.0 Gyr","r":280,"v":1.0006},{"s":"distant, 1.0 Gyr","r":300,"v":1.0004},
{"s":"distant, dashed","r":8.7,"v":0.95},{"s":"distant, dashed","r":10.5,"v":0.975},{"s":"distant, dashed","r":12.5,"v":1.005},{"s":"distant, dashed","r":15.6,"v":1.038},{"s":"distant, dashed","r":17.5,"v":1.044},{"s":"distant, dashed","r":19,"v":1.0438},{"s":"distant, dashed","r":22.3,"v":1.0233},{"s":"distant, dashed","r":25.9,"v":0.9996},{"s":"distant, dashed","r":28.5,"v":0.9914},{"s":"distant, dashed","r":31.8,"v":0.996},{"s":"distant, dashed","r":34,"v":1.008},{"s":"distant, dashed","r":36.9,"v":1.0233},{"s":"distant, dashed","r":40.8,"v":1.038},{"s":"distant, dashed","r":43.8,"v":1.0435},{"s":"distant, dashed","r":47.2,"v":1.0417},{"s":"distant, dashed","r":51,"v":1.0288},{"s":"distant, dashed","r":56.2,"v":1.0106},{"s":"distant, dashed","r":61.3,"v":0.996},{"s":"distant, dashed","r":65.2,"v":0.9896},{"s":"distant, dashed","r":70.2,"v":0.9887},{"s":"distant, dashed","r":76.6,"v":0.9914},{"s":"distant, dashed","r":82,"v":0.997},{"s":"distant, dashed","r":87,"v":1.0033},{"s":"distant, dashed","r":92,"v":1.009},{"s":"distant, dashed","r":97,"v":1.0142},{"s":"distant, dashed","r":103,"v":1.018},{"s":"distant, dashed","r":110,"v":1.0206},{"s":"distant, dashed","r":116,"v":1.0216},{"s":"distant, dashed","r":122.8,"v":1.0215},{"s":"distant, dashed","r":130,"v":1.0208},{"s":"distant, dashed","r":138,"v":1.0197},{"s":"distant, dashed","r":147,"v":1.017},{"s":"distant, dashed","r":156,"v":1.0133},{"s":"distant, dashed","r":165,"v":1.0095},{"s":"distant, dashed","r":177,"v":1.006},{"s":"distant, dashed","r":189,"v":1.004},{"s":"distant, dashed","r":202,"v":1.0022},{"s":"distant, dashed","r":215,"v":1.0014},{"s":"distant, dashed","r":228,"v":1.0029},{"s":"distant, dashed","r":241,"v":1.0046},{"s":"distant, dashed","r":248.5,"v":1.0051},{"s":"distant, dashed","r":256,"v":1.0029},{"s":"distant, dashed","r":266,"v":1.0015},{"s":"distant, dashed","r":300,"v":1.0005},
{"s":"close, 0.75 Gyr","r":14,"v":0.95},{"s":"close, 0.75 Gyr","r":16,"v":0.962},{"s":"close, 0.75 Gyr","r":17.7,"v":0.9686},{"s":"close, 0.75 Gyr","r":20.2,"v":0.974},{"s":"close, 0.75 Gyr","r":22.8,"v":0.98},{"s":"close, 0.75 Gyr","r":25.4,"v":0.9868},{"s":"close, 0.75 Gyr","r":28,"v":0.9914},{"s":"close, 0.75 Gyr","r":30.5,"v":0.9905},{"s":"close, 0.75 Gyr","r":33,"v":0.9686},{"s":"close, 0.75 Gyr","r":34.8,"v":0.9598},{"s":"close, 0.75 Gyr","r":36.5,"v":0.962},{"s":"close, 0.75 Gyr","r":38.2,"v":0.964},{"s":"close, 0.75 Gyr","r":40.8,"v":0.9625},{"s":"close, 0.75 Gyr","r":43,"v":0.964},{"s":"close, 0.75 Gyr","r":45.9,"v":0.9658},{"s":"close, 0.75 Gyr","r":48.5,"v":0.97},{"s":"close, 0.75 Gyr","r":50.5,"v":0.9759},{"s":"close, 0.75 Gyr","r":52,"v":0.973},{"s":"close, 0.75 Gyr","r":54,"v":0.9704},{"s":"close, 0.75 Gyr","r":57.4,"v":0.9631},{"s":"close, 0.75 Gyr","r":59,"v":0.966},{"s":"close, 0.75 Gyr","r":61.3,"v":0.9704},{"s":"close, 0.75 Gyr","r":63.8,"v":0.975},{"s":"close, 0.75 Gyr","r":65.5,"v":0.98},{"s":"close, 0.75 Gyr","r":67.7,"v":0.9887},{"s":"close, 0.75 Gyr","r":72.8,"v":1.0088},{"s":"close, 0.75 Gyr","r":76,"v":1.022},{"s":"close, 0.75 Gyr","r":79.2,"v":1.0325},{"s":"close, 0.75 Gyr","r":83,"v":1.043},{"s":"close, 0.75 Gyr","r":87,"v":1.0517},{"s":"close, 0.75 Gyr","r":90,"v":1.056},{"s":"close, 0.75 Gyr","r":94,"v":1.0581},{"s":"close, 0.75 Gyr","r":98,"v":1.0555},{"s":"close, 0.75 Gyr","r":102.3,"v":1.049},{"s":"close, 0.75 Gyr","r":108,"v":1.04},{"s":"close, 0.75 Gyr","r":113.8,"v":1.0325},{"s":"close, 0.75 Gyr","r":120,"v":1.022},{"s":"close, 0.75 Gyr","r":125.4,"v":1.0124},{"s":"close, 0.75 Gyr","r":131,"v":1.002},{"s":"close, 0.75 Gyr","r":138,"v":0.9923},{"s":"close, 0.75 Gyr","r":145,"v":0.986},{"s":"close, 0.75 Gyr","r":151,"v":0.9814},{"s":"close, 0.75 Gyr","r":158.7,"v":0.9786},{"s":"close, 0.75 Gyr","r":166.4,"v":0.9804},{"s":"close, 0.75 Gyr","r":172,"v":0.984},{"s":"close, 0.75 Gyr","r":177,"v":0.9887},{"s":"close, 0.75 Gyr","r":184.4,"v":0.9941},{"s":"close, 0.75 Gyr","r":192,"v":1.0069},{"s":"close, 0.75 Gyr","r":197,"v":1.013},{"s":"close, 0.75 Gyr","r":202.3,"v":1.0179},{"s":"close, 0.75 Gyr","r":208,"v":1.022},{"s":"close, 0.75 Gyr","r":215,"v":1.026},{"s":"close, 0.75 Gyr","r":228,"v":1.0283},{"s":"close, 0.75 Gyr","r":241,"v":1.0279},{"s":"close, 0.75 Gyr","r":246,"v":1.026},{"s":"close, 0.75 Gyr","r":251,"v":1.0243},{"s":"close, 0.75 Gyr","r":256,"v":1.0252},{"s":"close, 0.75 Gyr","r":265,"v":1.023},{"s":"close, 0.75 Gyr","r":279,"v":1.0188},{"s":"close, 0.75 Gyr","r":290,"v":1.015},{"s":"close, 0.75 Gyr","r":300,"v":1.0117}
]
},
"resolve": {
"scale": {"x": "independent", "y": "independent", "color": "independent", "strokeDash": "independent", "strokeWidth": "independent", "shape": "independent", "stroke": "independent"},
"legend": {"color": "independent", "strokeDash": "independent", "strokeWidth": "independent", "shape": "independent", "stroke": "independent"}
},
"vconcat": [
{
"width": 390, "height": 218,
"resolve": {"axis": {"x": "independent", "y": "independent"}},
"layer": [
{"data": {"name": "vl"}, "mark": {"type": "rule", "strokeWidth": 1.6},
"encoding": {
"x": {"field": "r", "type": "quantitative", "scale": {"domain": [0, 300], "nice": false, "zero": false},
"axis": {"orient": "top", "values": [0,6.424,12.848,19.272,25.696,32.12,38.544,44.968,51.392,57.816,64.24,70.664,77.088,83.512,89.936,96.36,102.784,109.208,115.632,122.056,128.48,134.904,141.328,147.752,154.176,160.6,167.024,173.448,179.872,186.296,192.72,199.144,205.568,211.992,218.416,224.84,231.264,237.688,244.112,250.536,256.96,263.384,269.808,276.232,282.656,289.08,295.504],
"labelExpr": "round(datum.value/0.6424) % 50 === 0 ? '' + round(datum.value/0.6424) : ''", "labelPadding": 14,
"tickSize": {"condition": {"test": "round(datum.value/0.6424) % 50 === 0", "value": -6}, "value": -3.5}, "title": null}},
"stroke": {"field": "c", "type": "nominal", "scale": {"domain": ["light", "dark"], "range": ["#a3d9e8", "#5261ad"]}, "legend": null}
}},
{"data": {"name": "sx"}, "mark": {"type": "line", "clip": true, "interpolate": "monotone"},
"encoding": {
"x": {"field": "r", "type": "quantitative", "scale": {"domain": [0, 300], "nice": false, "zero": false},
"axis": {"orient": "bottom", "values": [0,10,20,30,40,50,60,70,80,90,100,110,120,130,140,150,160,170,180,190,200,210,220,230,240,250,260,270,280,290,300], "labels": false, "title": null, "tickSize": {"condition": {"test": "datum.value % 50 === 0", "value": -6}, "value": -3.5}}},
"y": {"field": "v", "type": "quantitative", "scale": {"type": "log", "domain": [0.1, 100], "nice": false},
"axis": {"orient": "left", "values": [0.1,0.2,0.3,0.4,0.5,0.6,0.7,0.8,0.9,1,2,3,4,5,6,7,8,9,10,20,30,40,50,60,70,80,90,100], "format": "~g",
"labelExpr": "abs(log(datum.value)/LN10 - round(log(datum.value)/LN10)) < 0.001 ? datum.label : ''",
"tickSize": {"condition": {"test": "abs(log(datum.value)/LN10 - round(log(datum.value)/LN10)) < 0.001", "value": -6}, "value": -3.5},
"labelPadding": 10, "title": "Sx, arbitrary", "titlePadding": 20}},
"color": {"field": "s", "type": "nominal", "scale": {"domain": ["Sivanandam+ 09", "distant, 1.0 Gyr", "ini", "close, 0.75 Gyr"], "range": ["#222222", "#e8202a", "#111111", "#5cb83c"]},
"legend": {"title": null, "orient": "none", "legendX": 348, "legendY": 5, "symbolType": "M-3.3,0L3.3,0", "symbolSize": 100, "labelAlign": "right", "labelOffset": -33, "labelFont": "DejaVu Sans", "labelFontSize": 13, "labelColor": "#222", "rowPadding": 0.6, "padding": 0}},
"strokeDash": {"field": "s", "type": "nominal", "scale": {"domain": ["Sivanandam+ 09", "distant, 1.0 Gyr", "ini", "close, 0.75 Gyr"], "range": [[12, 6], [1, 0], [5, 6], [1, 0]]},
"legend": {"title": null, "orient": "none", "legendX": 348, "legendY": 5, "symbolType": "M-3.3,0L3.3,0", "symbolSize": 100, "labelAlign": "right", "labelOffset": -33, "labelFont": "DejaVu Sans", "labelFontSize": 13, "labelColor": "#222", "rowPadding": 0.6, "padding": 0}},
"strokeWidth": {"field": "s", "type": "ordinal", "scale": {"domain": ["Sivanandam+ 09", "distant, 1.0 Gyr", "ini", "close, 0.75 Gyr"], "range": [1, 2.5, 2.5, 1.3]},
"legend": {"title": null, "orient": "none", "legendX": 348, "legendY": 5, "symbolType": "M-3.3,0L3.3,0", "symbolSize": 100, "labelAlign": "right", "labelOffset": -33, "labelFont": "DejaVu Sans", "labelFontSize": 13, "labelColor": "#222", "rowPadding": 0.6, "padding": 0}}
}},
{"data": {"values": [{"t": "x0.3"}]}, "mark": {"type": "text", "font": "DejaVu Sans", "fontSize": 13, "color": "#222"},
"encoding": {
"text": {"field": "t"},
"x": {"datum": 110.5, "type": "quantitative", "scale": {"domain": [0, 300], "nice": false, "zero": false}, "axis": null},
"y": {"datum": 0.335, "type": "quantitative", "scale": {"type": "log", "domain": [0.1, 100], "nice": false},
"axis": {"orient": "right", "values": [0.1,0.2,0.3,0.4,0.5,0.6,0.7,0.8,0.9,1,2,3,4,5,6,7,8,9,10,20,30,40,50,60,70,80,90,100], "labels": false, "title": null,
"tickSize": {"condition": {"test": "abs(log(datum.value)/LN10 - round(log(datum.value)/LN10)) < 0.001", "value": -6}, "value": -3.5}}}
}}
]
},
{
"width": 390, "height": 218,
"resolve": {"axis": {"x": "independent", "y": "independent"}},
"layer": [
{"data": {"name": "vl"}, "mark": {"type": "rule", "strokeWidth": 1.6},
"encoding": {
"x": {"field": "r", "type": "quantitative", "scale": {"domain": [0, 300], "nice": false, "zero": false},
"axis": {"orient": "top", "values": [0,10,20,30,40,50,60,70,80,90,100,110,120,130,140,150,160,170,180,190,200,210,220,230,240,250,260,270,280,290,300], "labels": false, "title": null, "tickSize": {"condition": {"test": "datum.value % 50 === 0", "value": -6}, "value": -3.5}}},
"stroke": {"field": "c", "type": "nominal", "scale": {"domain": ["light", "dark"], "range": ["#a3d9e8", "#5261ad"]}, "legend": null}
}},
{"data": {"name": "sxr"}, "mark": {"type": "line", "clip": true, "interpolate": "monotone"},
"encoding": {
"x": {"field": "r", "type": "quantitative", "scale": {"domain": [0, 300], "nice": false, "zero": false},
"axis": {"orient": "bottom", "values": [0,10,20,30,40,50,60,70,80,90,100,110,120,130,140,150,160,170,180,190,200,210,220,230,240,250,260,270,280,290,300], "labels": false, "title": null, "tickSize": {"condition": {"test": "datum.value % 50 === 0", "value": -6}, "value": -3.5}}},
"y": {"field": "v", "type": "quantitative", "scale": {"domain": [0.9, 1.1], "nice": false, "zero": false},
"axis": {"orient": "left", "values": [0.9, 0.95, 1, 1.05, 1.1], "format": "~g", "tickSize": -6, "labelPadding": 16, "title": "Sx/Sxᵢₙᵢ", "titlePadding": 24}},
"color": {"field": "s", "type": "nominal", "scale": {"domain": ["distant, 1.0 Gyr", "close, 0.75 Gyr", "distant, dashed", "ini"], "range": ["#e8202a", "#5cb83c", "#e8202a", "#111111"]}, "legend": null},
"strokeWidth": {"field": "s", "type": "ordinal", "scale": {"domain": ["distant, 1.0 Gyr", "close, 0.75 Gyr", "distant, dashed", "ini"], "range": [2.5, 1.3, 2.5, 2.5]}, "legend": null}
}},
{"data": {"values": [{"ref": 1}]}, "mark": {"type": "rule", "color": "#111", "strokeWidth": 1, "strokeDash": [1, 2]},
"encoding": {
"y": {"field": "ref", "type": "quantitative", "scale": {"domain": [0.9, 1.1], "nice": false, "zero": false},
"axis": {"orient": "right", "values": [0.9, 0.95, 1, 1.05, 1.1], "labels": false, "title": null, "tickSize": -6}}
}}
]
},
{
"width": 390, "height": 218,
"resolve": {"axis": {"x": "independent", "y": "independent"}, "scale": {"color": "independent"}, "legend": {"color": "independent"}},
"layer": [
{"data": {"name": "vl"}, "mark": {"type": "rule", "strokeWidth": 1.6},
"encoding": {
"x": {"field": "r", "type": "quantitative", "scale": {"domain": [0, 300], "nice": false, "zero": false},
"axis": {"orient": "top", "values": [0,10,20,30,40,50,60,70,80,90,100,110,120,130,140,150,160,170,180,190,200,210,220,230,240,250,260,270,280,290,300], "labels": false, "title": null, "tickSize": {"condition": {"test": "datum.value % 50 === 0", "value": -6}, "value": -3.5}}},
"stroke": {"field": "c", "type": "nominal", "scale": {"domain": ["light", "dark"], "range": ["#a3d9e8", "#5261ad"]}, "legend": null}
}},
{"data": {"name": "tp"}, "transform": [{"filter": {"field": "s", "oneOf": ["distant, 1.0 Gyr", "close, 0.75 Gyr"]}}],
"mark": {"type": "line", "clip": true, "interpolate": "monotone"},
"encoding": {
"x": {"field": "r", "type": "quantitative", "scale": {"domain": [0, 300], "nice": false, "zero": false},
"axis": {"orient": "bottom", "values": [0,10,20,30,40,50,60,70,80,90,100,110,120,130,140,150,160,170,180,190,200,210,220,230,240,250,260,270,280,290,300], "labels": false, "title": null, "tickSize": {"condition": {"test": "datum.value % 50 === 0", "value": -6}, "value": -3.5}}},
"y": {"field": "v", "type": "quantitative", "scale": {"domain": [1.8, 4.8], "nice": false, "zero": false},
"axis": {"orient": "left", "values": [2, 2.5, 3, 3.5, 4, 4.5], "format": "~g", "tickSize": -6, "labelPadding": 16, "title": "Tₚᵣₒⱼ / keV", "titlePadding": 20}},
"color": {"field": "s", "type": "nominal", "scale": {"domain": ["distant, 1.0 Gyr", "close, 0.75 Gyr", "distant, dashed", "ini"], "range": ["#e8202a", "#5cb83c", "#e8202a", "#111111"]}, "legend": null},
"strokeWidth": {"field": "s", "type": "ordinal", "scale": {"domain": ["distant, 1.0 Gyr", "close, 0.75 Gyr", "distant, dashed", "ini"], "range": [2.5, 1.3, 2.5, 2.5]}, "legend": null}
}},
{"data": {"name": "tp"}, "transform": [{"filter": {"field": "s", "oneOf": ["distant, dashed", "ini"]}}],
"mark": {"type": "line", "clip": true, "interpolate": "monotone"},
"encoding": {
"x": {"field": "r", "type": "quantitative", "scale": {"domain": [0, 300], "nice": false, "zero": false}, "axis": null},
"y": {"field": "v", "type": "quantitative", "scale": {"domain": [1.8, 4.8], "nice": false, "zero": false},
"axis": {"orient": "right", "values": [2, 2.5, 3, 3.5, 4, 4.5], "labels": false, "title": null, "tickSize": -6}},
"color": {"field": "s", "type": "nominal", "scale": {"domain": ["distant, 1.0 Gyr", "close, 0.75 Gyr", "distant, dashed", "ini"], "range": ["#e8202a", "#5cb83c", "#e8202a", "#111111"]}, "legend": null},
"strokeWidth": {"field": "s", "type": "ordinal", "scale": {"domain": ["distant, 1.0 Gyr", "close, 0.75 Gyr", "distant, dashed", "ini"], "range": [2.5, 1.3, 2.5, 2.5]}, "legend": null},
"strokeDash": {"field": "s", "type": "nominal", "scale": {"domain": ["distant, 1.0 Gyr", "close, 0.75 Gyr", "distant, dashed", "ini"], "range": [[1, 0], [1, 0], [6, 4], [5, 6]]}, "legend": null}
}},
{"data": {"name": "obs"}, "mark": {"type": "rule", "color": "#222", "strokeWidth": 1, "clip": true},
"encoding": {
"x": {"field": "r", "type": "quantitative", "scale": {"domain": [0, 300], "nice": false, "zero": false}, "axis": null},
"y": {"field": "lo", "type": "quantitative", "scale": {"domain": [1.8, 4.8], "nice": false, "zero": false}, "axis": null},
"y2": {"field": "hi"}
}},
{"data": {"name": "obs"}, "mark": {"type": "tick", "orient": "horizontal", "color": "#222", "size": 7, "thickness": 1, "clip": true},
"encoding": {
"x": {"field": "r", "type": "quantitative", "scale": {"domain": [0, 300], "nice": false, "zero": false}, "axis": null},
"y": {"field": "lo", "type": "quantitative", "scale": {"domain": [1.8, 4.8], "nice": false, "zero": false}, "axis": null}
}},
{"data": {"name": "obs"}, "mark": {"type": "tick", "orient": "horizontal", "color": "#222", "size": 7, "thickness": 1, "clip": true},
"encoding": {
"x": {"field": "r", "type": "quantitative", "scale": {"domain": [0, 300], "nice": false, "zero": false}, "axis": null},
"y": {"field": "hi", "type": "quantitative", "scale": {"domain": [1.8, 4.8], "nice": false, "zero": false}, "axis": null}
}},
{"data": {"name": "obs"}, "transform": [{"filter": "isValid(datum.rlo)"}], "mark": {"type": "rule", "color": "#222", "strokeWidth": 1, "strokeDash": [4, 2], "clip": true},
"encoding": {
"x": {"field": "rlo", "type": "quantitative", "scale": {"domain": [0, 300], "nice": false, "zero": false}, "axis": null},
"x2": {"field": "rhi"},
"y": {"field": "T", "type": "quantitative", "scale": {"domain": [1.8, 4.8], "nice": false, "zero": false}, "axis": null}
}},
{"data": {"name": "obs"}, "mark": {"type": "point", "filled": false, "strokeWidth": 1, "size": 100, "opacity": 1, "clip": true},
"encoding": {
"x": {"field": "r", "type": "quantitative", "scale": {"domain": [0, 300], "nice": false, "zero": false}, "axis": null},
"y": {"field": "T", "type": "quantitative", "scale": {"domain": [1.8, 4.8], "nice": false, "zero": false}, "axis": null},
"shape": {"field": "src", "type": "nominal", "scale": {"domain": ["Kaastra+ 04", "Snowden+ 08", "Lovisari+ 11", "Sivanandam+ 09"], "range": ["M-1,-1L1,1M-1,1L1,-1", "circle", "square", "M-1,0L1,0M0,-1L0,1"]}, "legend": null},
"color": {"field": "src", "type": "nominal", "scale": {"domain": ["Kaastra+ 04", "Snowden+ 08", "Lovisari+ 11", "Sivanandam+ 09"], "range": ["#222222", "#222222", "#222222", "#222222"]},
"legend": {"title": null, "orient": "none", "legendX": 349, "legendY": 152, "symbolSize": 100, "symbolStrokeWidth": 1, "symbolFillColor": "transparent", "labelAlign": "right", "labelOffset": -32, "labelFont": "DejaVu Sans", "labelFontSize": 13, "labelColor": "#222", "rowPadding": -1.4, "padding": 0,
"symbolType": {"expr": "datum.value === 'Kaastra+ 04' ? 'M-3.3,0L3.3,0M-3.3,-0.7L-3.3,0.7M3.3,-0.7L3.3,0.7M-1,-1L1,1M-1,1L1,-1' : datum.value === 'Snowden+ 08' ? 'M-3.3,0L-1,0M1,0L3.3,0M-3.3,-0.7L-3.3,0.7M3.3,-0.7L3.3,0.7M1,0A1 1 0 1 1 -1,0A1 1 0 1 1 1,0' : datum.value === 'Lovisari+ 11' ? 'M-3.3,0L-1,0M1,0L3.3,0M-3.3,-0.7L-3.3,0.7M3.3,-0.7L3.3,0.7M-1,-1L1,-1L1,1L-1,1Z' : 'M-3.3,0L-0.4,0M0.4,0L1.4,0M2.3,0L3.3,0M-3.3,-0.7L-3.3,0.7M3.3,-0.7L3.3,0.7M-1,0L1,0M0,-1L0,1'"}}}
}}
]
},
{
"width": 390, "height": 218,
"resolve": {"axis": {"x": "independent", "y": "independent"}},
"layer": [
{"data": {"name": "vl"}, "mark": {"type": "rule", "strokeWidth": 1.6},
"encoding": {
"x": {"field": "r", "type": "quantitative", "scale": {"domain": [0, 300], "nice": false, "zero": false},
"axis": {"orient": "top", "values": [0,10,20,30,40,50,60,70,80,90,100,110,120,130,140,150,160,170,180,190,200,210,220,230,240,250,260,270,280,290,300], "labels": false, "title": null, "tickSize": {"condition": {"test": "datum.value % 50 === 0", "value": -6}, "value": -3.5}}},
"stroke": {"field": "c", "type": "nominal", "scale": {"domain": ["light", "dark"], "range": ["#a3d9e8", "#5261ad"]}, "legend": null}
}},
{"data": {"name": "tr"}, "mark": {"type": "line", "clip": true, "interpolate": "monotone"},
"encoding": {
"x": {"field": "r", "type": "quantitative", "scale": {"domain": [0, 300], "nice": false, "zero": false},
"axis": {"orient": "bottom", "values": [0,10,20,30,40,50,60,70,80,90,100,110,120,130,140,150,160,170,180,190,200,210,220,230,240,250,260,270,280,290,300], "labels": false, "title": null, "tickSize": {"condition": {"test": "datum.value % 50 === 0", "value": -6}, "value": -3.5}}},
"y": {"field": "v", "type": "quantitative", "scale": {"domain": [0.87, 1.1], "nice": false, "zero": false},
"axis": {"orient": "left", "values": [0.9, 0.95, 1, 1.05, 1.1], "format": "~g", "tickSize": -6, "labelPadding": 16, "title": "T/Tᵢₙᵢ", "titlePadding": 24}},
"color": {"field": "s", "type": "nominal", "scale": {"domain": ["distant, 1.0 Gyr", "close, 0.75 Gyr", "distant, dashed", "ini"], "range": ["#e8202a", "#5cb83c", "#e8202a", "#111111"]}, "legend": null},
"strokeWidth": {"field": "s", "type": "ordinal", "scale": {"domain": ["distant, 1.0 Gyr", "close, 0.75 Gyr", "distant, dashed", "ini"], "range": [2.5, 1.3, 2.5, 2.5]}, "legend": null},
"strokeDash": {"field": "s", "type": "nominal", "scale": {"domain": ["distant, 1.0 Gyr", "close, 0.75 Gyr", "distant, dashed", "ini"], "range": [[1, 0], [1, 0], [6, 4], [5, 6]]}, "legend": null}
}},
{"data": {"values": [{"ref": 1}]}, "mark": {"type": "rule", "color": "#111", "strokeWidth": 1, "strokeDash": [1, 2]},
"encoding": {
"y": {"field": "ref", "type": "quantitative", "scale": {"domain": [0.87, 1.1], "nice": false, "zero": false},
"axis": {"orient": "right", "values": [0.9, 0.95, 1, 1.05, 1.1], "labels": false, "title": null, "tickSize": -6}}
}}
]
},
{
"width": 390, "height": 218,
"resolve": {"axis": {"x": "independent", "y": "independent"}},
"layer": [
{"data": {"name": "vl"}, "mark": {"type": "rule", "strokeWidth": 1.6},
"encoding": {
"x": {"field": "r", "type": "quantitative", "scale": {"domain": [0, 300], "nice": false, "zero": false},
"axis": {"orient": "top", "values": [0,10,20,30,40,50,60,70,80,90,100,110,120,130,140,150,160,170,180,190,200,210,220,230,240,250,260,270,280,290,300], "labels": false, "title": null, "tickSize": {"condition": {"test": "datum.value % 50 === 0", "value": -6}, "value": -3.5}}},
"stroke": {"field": "c", "type": "nominal", "scale": {"domain": ["light", "dark"], "range": ["#a3d9e8", "#5261ad"]}, "legend": null}
}},
{"data": {"name": "zp"}, "transform": [{"filter": {"field": "s", "oneOf": ["distant, 1.0 Gyr", "close, 0.75 Gyr"]}}],
"mark": {"type": "line", "clip": true, "interpolate": "monotone"},
"encoding": {
"x": {"field": "r", "type": "quantitative", "scale": {"domain": [0, 300], "nice": false, "zero": false},
"axis": {"orient": "bottom", "values": [0,10,20,30,40,50,60,70,80,90,100,110,120,130,140,150,160,170,180,190,200,210,220,230,240,250,260,270,280,290,300], "labels": false, "title": null, "tickSize": {"condition": {"test": "datum.value % 50 === 0", "value": -6}, "value": -3.5}}},
"y": {"field": "v", "type": "quantitative", "scale": {"domain": [0.3, 1.0], "nice": false, "zero": false},
"axis": {"orient": "left", "values": [0.3, 0.4, 0.5, 0.6, 0.7, 0.8, 0.9, 1], "format": "~g", "tickSize": -6, "labelPadding": 16, "title": "zₚᵣₒⱼ / solar", "titlePadding": 20}},
"color": {"field": "s", "type": "nominal", "scale": {"domain": ["distant, 1.0 Gyr", "close, 0.75 Gyr", "distant, dashed", "ini"], "range": ["#e8202a", "#5cb83c", "#e8202a", "#111111"]}, "legend": null},
"strokeWidth": {"field": "s", "type": "ordinal", "scale": {"domain": ["distant, 1.0 Gyr", "close, 0.75 Gyr", "distant, dashed", "ini"], "range": [2.5, 1.3, 2.5, 2.5]}, "legend": null}
}},
{"data": {"name": "zp"}, "transform": [{"filter": {"field": "s", "oneOf": ["distant, dashed", "ini"]}}],
"mark": {"type": "line", "clip": true, "interpolate": "monotone"},
"encoding": {
"x": {"field": "r", "type": "quantitative", "scale": {"domain": [0, 300], "nice": false, "zero": false}, "axis": null},
"y": {"field": "v", "type": "quantitative", "scale": {"domain": [0.3, 1.0], "nice": false, "zero": false},
"axis": {"orient": "right", "values": [0.3, 0.4, 0.5, 0.6, 0.7, 0.8, 0.9, 1], "labels": false, "title": null, "tickSize": -6}},
"color": {"field": "s", "type": "nominal", "scale": {"domain": ["distant, 1.0 Gyr", "close, 0.75 Gyr", "distant, dashed", "ini"], "range": ["#e8202a", "#5cb83c", "#e8202a", "#111111"]}, "legend": null},
"strokeWidth": {"field": "s", "type": "ordinal", "scale": {"domain": ["distant, 1.0 Gyr", "close, 0.75 Gyr", "distant, dashed", "ini"], "range": [2.5, 1.3, 2.5, 2.5]}, "legend": null},
"strokeDash": {"field": "s", "type": "nominal", "scale": {"domain": ["distant, 1.0 Gyr", "close, 0.75 Gyr", "distant, dashed", "ini"], "range": [[1, 0], [1, 0], [6, 4], [5, 6]]}, "legend": null}
}}
]
},
{
"width": 390, "height": 218,
"resolve": {"axis": {"x": "independent", "y": "independent"}},
"layer": [
{"data": {"name": "vl"}, "mark": {"type": "rule", "strokeWidth": 1.6},
"encoding": {
"x": {"field": "r", "type": "quantitative", "scale": {"domain": [0, 300], "nice": false, "zero": false},
"axis": {"orient": "top", "values": [0,10,20,30,40,50,60,70,80,90,100,110,120,130,140,150,160,170,180,190,200,210,220,230,240,250,260,270,280,290,300], "labels": false, "title": null, "tickSize": {"condition": {"test": "datum.value % 50 === 0", "value": -6}, "value": -3.5}}},
"stroke": {"field": "c", "type": "nominal", "scale": {"domain": ["light", "dark"], "range": ["#a3d9e8", "#5261ad"]}, "legend": null}
}},
{"data": {"name": "vl"}, "transform": [{"filter": "datum.r > 170"}], "mark": {"type": "rule", "strokeWidth": 1.6, "clip": false},
"encoding": {
"x": {"field": "r", "type": "quantitative", "scale": {"domain": [0, 300], "nice": false, "zero": false}, "axis": null},
"y": {"datum": 0.95, "type": "quantitative", "scale": {"domain": [0.95, 1.07], "nice": false, "zero": false}, "axis": null},
"y2": {"datum": 0.925},
"stroke": {"field": "c", "type": "nominal", "scale": {"domain": ["light", "dark"], "range": ["#a3d9e8", "#5261ad"]}, "legend": null}
}},
{"data": {"name": "zr"}, "mark": {"type": "line", "clip": true, "interpolate": "monotone"},
"encoding": {
"x": {"field": "r", "type": "quantitative", "scale": {"domain": [0, 300], "nice": false, "zero": false},
"axis": {"orient": "bottom", "values": [0,10,20,30,40,50,60,70,80,90,100,110,120,130,140,150,160,170,180,190,200,210,220,230,240,250,260,270,280,290,300],
"labelExpr": "datum.value % 50 === 0 ? datum.label : ''", "labelPadding": 15.5, "title": "r / kpc", "titleFont": "DejaVu Sans", "titlePadding": 5,
"tickSize": {"condition": {"test": "datum.value % 50 === 0", "value": -6}, "value": -3.5}}},
"y": {"field": "v", "type": "quantitative", "scale": {"domain": [0.95, 1.07], "nice": false, "zero": false},
"axis": {"orient": "left", "values": [0.96, 0.98, 1, 1.02, 1.04, 1.06], "format": "~g", "tickSize": -6, "labelPadding": 16, "title": "z/zᵢₙᵢ", "titlePadding": 24}},
"color": {"field": "s", "type": "nominal", "scale": {"domain": ["distant, 1.0 Gyr", "close, 0.75 Gyr", "distant, dashed", "ini"], "range": ["#e8202a", "#5cb83c", "#e8202a", "#111111"]}, "legend": null},
"strokeWidth": {"field": "s", "type": "ordinal", "scale": {"domain": ["distant, 1.0 Gyr", "close, 0.75 Gyr", "distant, dashed", "ini"], "range": [2.5, 1.3, 2.5, 2.5]}, "legend": null},
"strokeDash": {"field": "s", "type": "nominal", "scale": {"domain": ["distant, 1.0 Gyr", "close, 0.75 Gyr", "distant, dashed", "ini"], "range": [[1, 0], [1, 0], [6, 4], [5, 6]]}, "legend": null}
}},
{"data": {"values": [{"ref": 1}]}, "mark": {"type": "rule", "color": "#111", "strokeWidth": 1, "strokeDash": [1, 2]},
"encoding": {
"y": {"field": "ref", "type": "quantitative", "scale": {"domain": [0.95, 1.07], "nice": false, "zero": false},
"axis": {"orient": "right", "values": [0.96, 0.98, 1, 1.02, 1.04, 1.06], "labels": false, "title": null, "tickSize": -6}}
}}
]
}
],
"config": {
"view": {"stroke": "#000", "strokeWidth": 1},
"axis": {"domain": false, "grid": false, "labelFlush": false, "labelOverlap": false, "labelFont": "DejaVu Sans", "labelFontSize": 13, "labelColor": "#222", "tickColor": "#000", "tickWidth": 1, "titleFont": "Liberation Sans", "titleFontSize": 13, "titleFontWeight": "normal", "titleColor": "#222"}
}
}
